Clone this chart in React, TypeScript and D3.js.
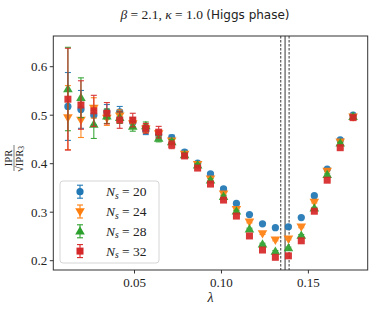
import React from "react";
import * as d3 from "d3";

const lambdas = [0.0117, 0.0192, 0.0266, 0.0341, 0.0415, 0.0490, 0.0565, 0.0639, 0.0714, 0.0788, 0.0863, 0.0937, 0.1012, 0.1086, 0.1161, 0.1236, 0.1310, 0.1385, 0.1459, 0.1534, 0.1608, 0.1683, 0.1757];

const ipr20 = [0.518, 0.512, 0.500, 0.507, 0.507, 0.485, 0.468, 0.460, 0.454, 0.424, 0.401, 0.379, 0.348, 0.318, 0.295, 0.276, 0.268, 0.270, 0.289, 0.334, 0.389, 0.449, 0.500];
const err20 = [0.070, 0.039, 0.020, 0.015, 0.011, 0.010, 0.008, 0.007, 0.005, 0.004, 0.003, 0.003, 0.003, 0.002, 0.002, 0.002, 0.002, 0.002, 0.002, 0.002, 0.002, 0.002, 0.002];
const ipr24 = [0.495, 0.490, 0.515, 0.494, 0.499, 0.483, 0.472, 0.462, 0.447, 0.420, 0.399, 0.369, 0.338, 0.306, 0.280, 0.256, 0.243, 0.245, 0.270, 0.321, 0.385, 0.445, 0.497];
const err24 = [0.066, 0.036, 0.021, 0.015, 0.012, 0.010, 0.008, 0.007, 0.005, 0.004, 0.003, 0.003, 0.003, 0.002, 0.002, 0.002, 0.002, 0.002, 0.002, 0.002, 0.002, 0.002, 0.002];
const ipr28 = [0.554, 0.536, 0.481, 0.498, 0.495, 0.477, 0.478, 0.452, 0.445, 0.418, 0.397, 0.366, 0.332, 0.302, 0.265, 0.234, 0.219, 0.226, 0.252, 0.308, 0.377, 0.442, 0.497];
const err28 = [0.086, 0.041, 0.029, 0.015, 0.012, 0.010, 0.008, 0.007, 0.005, 0.004, 0.003, 0.003, 0.003, 0.002, 0.002, 0.002, 0.002, 0.002, 0.002, 0.002, 0.002, 0.002, 0.002];
const ipr32 = [0.533, 0.521, 0.509, 0.504, 0.490, 0.490, 0.473, 0.465, 0.439, 0.416, 0.391, 0.358, 0.325, 0.292, 0.251, 0.222, 0.207, 0.210, 0.241, 0.302, 0.366, 0.433, 0.495];
const err32 = [0.105, 0.050, 0.032, 0.022, 0.017, 0.014, 0.010, 0.012, 0.008, 0.005, 0.004, 0.003, 0.003, 0.002, 0.002, 0.002, 0.002, 0.002, 0.002, 0.002, 0.002, 0.002, 0.002];

const sizes = ["20", "24", "28", "32"];
const colors = ["#1f77b4", "#ff7f0e", "#2ca02c", "#d62728"];
const markerShapes = ["circle", "triangleDown", "triangleUp", "square"];

const xTicks = [0.05, 0.1, 0.15];
const xTickLabels = ["0.05", "0.10", "0.15"];
const yTicks = [0.2, 0.3, 0.4, 0.5, 0.6];
const yTickLabels = ["0.2", "0.3", "0.4", "0.5", "0.6"];

const vlineDashed = [0.1341, 0.1389];
const vlineSolid = [0.1366];

const W = 374;
const H = 312;
const L = 53.3, R = 367.7, T = 36, B = 270;

const x = d3.scaleLinear().domain([0.0033, 0.1841]).range([L, R]);
const y = d3.scaleLinear().domain([0.1808, 0.6633]).range([B, T]);

const serif = "Liberation Serif, DejaVu Serif, serif";
const sans = "DejaVu Sans, Liberation Sans, sans-serif";

function Marker({ shape, cx, cy, color }: { shape: string; cx: number; cy: number; color: string }) {
  const s = 3.5;
  if (shape === "circle") return <circle cx={cx} cy={cy} r={3.6} fill={color} />;
  if (shape === "square") return <rect x={cx - s} y={cy - s} width={2 * s} height={2 * s} fill={color} />;
  const sym = d3.symbol().type(d3.symbolTriangle).size(40)();
  const rot = shape === "triangleDown" ? 180 : 0;
  return <path d={sym || ""} transform={`translate(${cx},${cy + (shape === "triangleDown" ? -0.5 : 0.5)}) rotate(${rot})`} fill={color} />;
}

function ErrorBar({ cx, cy0, cy1, color }: { cx: number; cy0: number; cy1: number; color: string }) {
  return (
    <g stroke={color} strokeWidth={1.1}>
      <line x1={cx} x2={cx} y1={cy0} y2={cy1} />
      <line x1={cx - 3} x2={cx + 3} y1={cy0} y2={cy0} />
      <line x1={cx - 3} x2={cx + 3} y1={cy1} y2={cy1} />
    </g>
  );
}

export default function App() {
  const series = [
    { vals: ipr20, errs: err20 },
    { vals: ipr24, errs: err24 },
    { vals: ipr28, errs: err28 },
    { vals: ipr32, errs: err32 },
  ];
  return (
    <svg width={W} height={H} style={{ position: "absolute", left: 0, top: 0, background: "#fff" }}>
      <defs>
        <clipPath id="plotclip">
          <rect x={L} y={T} width={R - L} height={B - T} />
        </clipPath>
      </defs>
      {/* title */}
      <text x={205} y={19} textAnchor="middle" fontSize={13.5} fill="#222">
        <tspan fontFamily={serif} fontStyle="italic">β</tspan>
        <tspan fontFamily={serif}> = 2.1, </tspan>
        <tspan fontFamily={serif} fontStyle="italic">κ</tspan>
        <tspan fontFamily={serif}> = 1.0 </tspan>
        <tspan fontFamily={sans} fontSize={12}>(Higgs phase)</tspan>
      </text>

      {/* vertical lines */}
      {vlineSolid.map((v, i) => (
        <line key={"s" + i} x1={x(v)} x2={x(v)} y1={T} y2={B} stroke="#808080" strokeWidth={1.6} />
      ))}
      {vlineDashed.map((v, i) => (
        <line key={"d" + i} x1={x(v)} x2={x(v)} y1={T} y2={B} stroke="#222" strokeWidth={0.9} strokeDasharray="2.5,1.5" />
      ))}

      {/* data */}
      <g clipPath="url(#plotclip)">
        {series.map((s, si) => (
          <g key={si} opacity={0.92}>
            {lambdas.map((l, i) => (
              <ErrorBar key={"e" + i} cx={x(l)} cy0={y(s.vals[i] - s.errs[i])} cy1={y(s.vals[i] + s.errs[i])} color={colors[si]} />
            ))}
            {lambdas.map((l, i) => (
              <Marker key={"m" + i} shape={markerShapes[si]} cx={x(l)} cy={y(s.vals[i])} color={colors[si]} />
            ))}
          </g>
        ))}
      </g>

      {/* axes frame */}
      <rect x={L} y={T} width={R - L} height={B - T} fill="none" stroke="#333" strokeWidth={1} />

      {/* y ticks */}
      {yTicks.map((t, i) => (
        <g key={"y" + i}>
          <line x1={L - 3.5} x2={L} y1={y(t)} y2={y(t)} stroke="#333" strokeWidth={1} />
          <text x={L - 6} y={y(t) + 4.5} textAnchor="end" fontFamily={serif} fontSize={13} fill="#222">{yTickLabels[i]}</text>
        </g>
      ))}
      {/* x ticks */}
      {xTicks.map((t, i) => (
        <g key={"x" + i}>
          <line x1={x(t)} x2={x(t)} y1={B} y2={B + 3.5} stroke="#333" strokeWidth={1} />
          <text x={x(t)} y={B + 17} textAnchor="middle" fontFamily={serif} fontSize={13} fill="#222">{xTickLabels[i]}</text>
        </g>
      ))}

      {/* x label */}
      <text x={(L + R) / 2} y={302} textAnchor="middle" fontFamily={serif} fontStyle="italic" fontSize={14} fill="#222">λ</text>

      {/* y label fraction */}
      <g transform="translate(14,158) rotate(-90)" fontFamily={serif} fill="#222">
        <text x={0} y={-1.8} textAnchor="middle" fontSize={10.5}>IPR</text>
        <line x1={-13} x2={13} y1={0} y2={0} stroke="#222" strokeWidth={0.6} />
        <text x={-1} y={8.5} textAnchor="middle" fontSize={10.5}>
          <tspan>√IPR</tspan>
          <tspan fontSize={7.5} dy={1.5}>3</tspan>
        </text>
      </g>

      {/* legend */}
      <g>
        <rect x={60} y={181} width={99} height={82} rx={3} fill="#fff" fillOpacity={0.8} stroke="#ccc" strokeWidth={0.8} />
        {sizes.map((s, i) => {
          const ly = 191.7 + i * 19.8;
          return (
            <g key={"lg" + i}>
              <ErrorBar cx={80} cy0={ly - 6.5} cy1={ly + 6.5} color={colors[i]} />
              <Marker shape={markerShapes[i]} cx={80} cy={ly} color={colors[i]} />
              <text x={106} y={ly + 4.5} fontFamily={serif} fontSize={13.5} fill="#222">
                <tspan fontStyle="italic">N</tspan>
                <tspan fontStyle="italic" fontSize={9.5} dy={2.5}>s</tspan>
                <tspan dy={-2.5}> = {s}</tspan>
              </text>
            </g>
          );
        })}
      </g>
    </svg>
  );
}
